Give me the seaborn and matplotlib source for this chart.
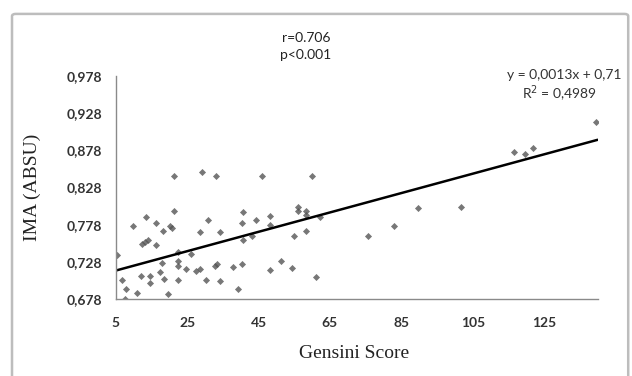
import matplotlib.pyplot as plt
import numpy as np
import pandas as pd
import seaborn as sns
from matplotlib.patches import FancyBboxPatch


# Data

gensini = [5.5, 6.7, 7.9, 7.6, 11.0, 9.8, 12.1, 12.3, 13.1, 14.0, 13.5, 14.6, 14.6,
           16.4, 16.3, 17.5, 18.3, 18.1, 18.5, 19.7, 20.1, 20.9, 21.4, 21.4, 22.5,
           22.5, 22.5, 22.5, 24.6, 26.0, 27.6, 28.5, 28.5, 29.2, 30.3, 31.0, 32.7,
           33.3, 33.1, 34.2, 34.2, 37.8, 39.3, 40.4, 40.4, 40.7, 40.7, 43.3, 44.3,
           46.1, 48.3, 48.3, 48.3, 51.2, 54.3, 55.0, 56.0, 56.0, 58.2, 58.2, 58.3,
           60.1, 61.2, 62.1, 75.8, 83.0, 89.8, 101.6, 116.7, 119.7, 121.9, 139.4]
ima = [0.737, 0.704, 0.692, 0.6785, 0.687, 0.777, 0.709, 0.752, 0.755, 0.758, 0.789,
       0.709, 0.700, 0.751, 0.781, 0.714, 0.770, 0.727, 0.705, 0.685, 0.777, 0.774,
       0.796, 0.844, 0.742, 0.729, 0.723, 0.704, 0.719, 0.739, 0.716, 0.719, 0.768,
       0.849, 0.704, 0.785, 0.723, 0.725, 0.844, 0.768, 0.703, 0.721, 0.692, 0.725,
       0.780, 0.758, 0.795, 0.763, 0.785, 0.844, 0.790, 0.778, 0.717, 0.730, 0.720,
       0.763, 0.802, 0.796, 0.797, 0.791, 0.769, 0.844, 0.708, 0.789, 0.763, 0.776,
       0.800, 0.802, 0.875, 0.873, 0.881, 0.916]

# trendline as printed on the chart
slope = 0.0013
intercept = 0.71

x_ticks = [5, 25, 45, 65, 85, 105, 125]
y_ticks = [0.678, 0.728, 0.778, 0.828, 0.878, 0.928, 0.978]
y_tick_labels = ["0,678", "0,728", "0,778", "0,828", "0,878", "0,928", "0,978"]

df = pd.DataFrame({"Gensini": gensini, "IMA": ima})

trend_x = np.linspace(5, 140, 50)
trend = pd.DataFrame({"Gensini": trend_x, "IMA": slope * trend_x + intercept})

# Plot

sns.set_style("white")
plt.rcParams["font.family"] = ["Lato", "DejaVu Sans"]

fig = plt.figure(figsize=(6.32, 3.76), dpi=100)
ax = fig.add_axes([0.183, 0.204, 0.7627, 0.5947])

# outer frame like the excel chart area
frame = FancyBboxPatch((0.019, -0.05), 0.975, 1.013, boxstyle="round,pad=0,rounding_size=0.006",
                       transform=fig.transFigure, facecolor="none", edgecolor="#bdbdbd",
                       linewidth=1.8, zorder=0)
fig.patches.append(frame)

sns.regplot(data=df, x="Gensini", y="IMA", ax=ax, fit_reg=False,
            marker="D", scatter_kws={"color": "#555555", "s": 13, "linewidths": 0})
sns.lineplot(data=trend, x="Gensini", y="IMA", ax=ax, color="black", linewidth=1.8)

ax.set_xlim(5, 140)
ax.set_ylim(0.678, 0.978)
ax.set_xticks(x_ticks)
ax.set_yticks(y_ticks)
ax.set_yticklabels(y_tick_labels)
ax.tick_params(axis="both", length=4, width=1, color="#8a8a8a", labelsize=10,
               labelcolor="#333333", direction="out")
ax.tick_params(axis="y", pad=6)
ax.tick_params(axis="x", pad=9)
for lbl in ax.get_xticklabels() + ax.get_yticklabels():
    lbl.set_fontweight("bold")

for s in ["top", "right"]:
    ax.spines[s].set_visible(False)
for s in ["left", "bottom"]:
    ax.spines[s].set_color("#8a8a8a")
    ax.spines[s].set_linewidth(1)

ax.set_xlabel("Gensini Score", family="Liberation Serif", fontsize=14, color="#222222")
ax.set_ylabel("IMA (ABSU)", family="Liberation Serif", fontsize=14, color="#222222")
ax.xaxis.set_label_coords(0.495, -0.205)
ax.yaxis.set_label_coords(-0.155, 0.5)

fig.text(0.484, 0.900, "r=0.706", ha="center", va="center", fontsize=10, color="#222222")
fig.text(0.484, 0.853, "p<0.001", ha="center", va="center", fontsize=10, color="#222222")

fig.text(0.984, 0.800, "y = 0,0013x + 0,71", ha="right", va="center", fontsize=10, color="#333333")
fig.text(0.886, 0.750, "R$^2$ = 0,4989", ha="center", va="center", fontsize=10, color="#333333")

fig.savefig("out.png", dpi=100)
